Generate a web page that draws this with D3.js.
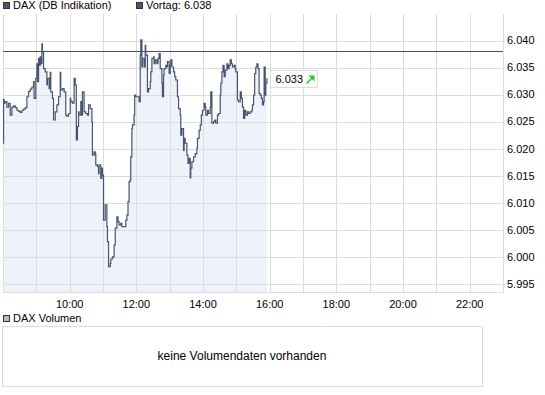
<!DOCTYPE html>
<html>
<head>
<meta charset="utf-8">
<script src="https://cdn.jsdelivr.net/npm/d3@7"></script>
<style>
  body { margin: 0; background: #fff; }
  svg text { font-family: "Liberation Sans", Arial, sans-serif; font-size: 11px; fill: #000; }
</style>
</head>
<body>
<svg id="chart"></svg>
<script>
const width = 545;
const height = 395;

// intraday DAX (DB Indikation)
const times = [
  "08:00","08:01","08:02","08:04","08:07","08:10","08:13","08:16","08:19","08:22",
  "08:25","08:28","08:31","08:34","08:37","08:40","08:43","08:46","08:49","08:52",
  "08:55","08:56","08:59","09:01","09:02","09:04","09:05","09:07","09:08","09:10",
  "09:11","09:13","09:16","09:19","09:20","09:23","09:25","09:26","09:29","09:31",
  "09:34","09:37","09:40","09:43","09:44","09:47","09:50","09:53","09:55","09:58",
  "10:01","10:02","10:05","10:08","10:10","10:12","10:14","10:16","10:17","10:20",
  "10:22","10:23","10:26","10:29","10:32","10:34","10:37","10:40","10:41","10:44",
  "10:46","10:47","10:50","10:52","10:53","10:56","10:58","10:59","11:01","11:04",
  "11:07","11:08","11:10","11:13","11:14","11:17","11:20","11:22","11:25","11:27",
  "11:29","11:32","11:34","11:38","11:41","11:43","11:45","11:47","11:49","11:50",
  "11:52","11:53","11:56","11:57","11:59","12:02","12:05","12:07","12:08","12:10",
  "12:11","12:14","12:16","12:17","12:20","12:22","12:25","12:26","12:28","12:31",
  "12:32","12:34","12:37","12:39","12:41","12:43","12:46","12:47","12:49","12:50",
  "12:53","12:55","12:56","12:59","13:01","13:02","13:04","13:07","13:09","13:11",
  "13:14","13:16","13:19","13:20","13:22","13:25","13:26","13:28","13:31","13:33",
  "13:35","13:37","13:38","13:40","13:43","13:46","13:49","13:50","13:53","13:55",
  "13:57","13:59","14:02","14:04","14:05","14:08","14:10","14:13","14:14","14:16",
  "14:19","14:21","14:23","14:26","14:28","14:31","14:32","14:34","14:36","14:38",
  "14:40","14:43","14:45","14:47","14:49","14:51","14:53","14:56","14:58","14:59",
  "15:02","15:04","15:07","15:09","15:11","15:13","15:15","15:17","15:20","15:22",
  "15:25","15:28","15:29","15:31","15:33","15:35","15:37","15:39","15:41","15:43",
  "15:45","15:47","15:49","15:50","15:52","15:53","15:55"
];
const prices = [
  6.0210,6.0291,6.0284,6.0287,6.0277,6.0284,6.0262,6.0277,6.0279,6.0276,
  6.0271,6.0269,6.0267,6.0271,6.0273,6.0276,6.0296,6.0306,6.0310,6.0314,
  6.0324,6.0293,6.0330,6.0357,6.0324,6.0367,6.0354,6.0370,6.0357,6.0394,
  6.0379,6.0348,6.0342,6.0318,6.0330,6.0311,6.0341,6.0305,6.0293,6.0253,
  6.0268,6.0281,6.0296,6.0341,6.0308,6.0311,6.0305,6.0262,6.0260,6.0265,
  6.0293,6.0287,6.0284,6.0330,6.0318,6.0216,6.0241,6.0268,6.0262,6.0287,
  6.0262,6.0305,6.0268,6.0265,6.0262,6.0281,6.0274,6.0250,6.0188,6.0194,
  6.0191,6.0170,6.0167,6.0154,6.0170,6.0145,6.0164,6.0151,6.0068,6.0096,
  6.0056,6.0028,5.9982,5.9988,5.9996,6.0000,6.0022,6.0053,6.0074,6.0065,
  6.0059,6.0062,6.0056,6.0056,6.0068,6.0077,6.0102,6.0139,6.0142,6.0185,
  6.0237,6.0244,6.0262,6.0299,6.0296,6.0296,6.0287,6.0373,6.0401,6.0351,
  6.0367,6.0351,6.0391,6.0373,6.0305,6.0311,6.0324,6.0342,6.0367,6.0370,
  6.0357,6.0364,6.0357,6.0367,6.0376,6.0348,6.0321,6.0296,6.0336,6.0348,
  6.0354,6.0351,6.0361,6.0339,6.0354,6.0364,6.0351,6.0342,6.0333,6.0327,
  6.0296,6.0274,6.0262,6.0225,6.0237,6.0197,6.0219,6.0210,6.0188,6.0173,
  6.0182,6.0146,6.0164,6.0176,6.0185,6.0191,6.0201,6.0219,6.0234,6.0244,
  6.0262,6.0271,6.0284,6.0277,6.0262,6.0271,6.0265,6.0277,6.0305,6.0247,
  6.0250,6.0253,6.0247,6.0262,6.0265,6.0299,6.0321,6.0342,6.0354,6.0333,
  6.0345,6.0357,6.0348,6.0354,6.0364,6.0357,6.0351,6.0354,6.0348,6.0342,
  6.0290,6.0287,6.0305,6.0293,6.0277,6.0256,6.0271,6.0262,6.0268,6.0265,
  6.0268,6.0271,6.0281,6.0299,6.0339,6.0351,6.0357,6.0348,6.0302,6.0299,
  6.0293,6.0281,6.0287,6.0351,6.0299,6.0321,6.0330
];
const vortag = 6.038;
const lastPrice = "6.033";
const yTicks = [5.995, 6.000, 6.005, 6.010, 6.015, 6.020, 6.025, 6.030, 6.035, 6.040];
const xTickLabels = ["10:00", "12:00", "14:00", "16:00", "18:00", "20:00", "22:00"];
const seriesName = "DAX (DB Indikation)";
const volumeName = "DAX Volumen";
const volumeText = "keine Volumendaten vorhanden";

const parseTime = d3.timeParse("%H:%M");
const fmtNum = d3.format(".3f");

const data = times.map((t, i) => ({ t: parseTime(t), v: prices[i] }));

const plot = { left: 3, right: 503, top: 14, bottom: 292 };

const x = d3.scaleTime()
  .domain([parseTime("08:00"), parseTime("23:00")])
  .range([plot.left, plot.right]);

const y = d3.scaleLinear()
  .domain([5.9935, 6.0449])
  .range([plot.bottom, plot.top]);

const svg = d3.select("#chart")
  .attr("width", width)
  .attr("height", height);

// area under the line
const area = d3.area()
  .curve(d3.curveStepAfter)
  .x(d => x(d.t))
  .y0(plot.bottom)
  .y1(d => y(d.v));

svg.append("path")
  .datum(data)
  .attr("fill", "#eef2fb")
  .attr("d", area);

// grid
const hours = d3.timeHour.range(parseTime("09:00"), parseTime("23:00"));
svg.append("g")
  .selectAll("line")
  .data(hours)
  .join("line")
  .attr("x1", d => Math.round(x(d)) + 0.5)
  .attr("x2", d => Math.round(x(d)) + 0.5)
  .attr("y1", plot.top)
  .attr("y2", plot.bottom)
  .attr("stroke", "#dcdcdc");

svg.append("g")
  .selectAll("line")
  .data(yTicks)
  .join("line")
  .attr("x1", plot.left)
  .attr("x2", plot.right)
  .attr("y1", d => Math.round(y(d)) + 0.5)
  .attr("y2", d => Math.round(y(d)) + 0.5)
  .attr("stroke", "#dcdcdc");

// frame (left, right, bottom)
svg.append("path")
  .attr("d", `M${plot.left + 0.5},${plot.top}V${plot.bottom + 0.5}H${plot.right + 0.5}V${plot.top}`)
  .attr("fill", "none")
  .attr("stroke", "#dcdcdc");

// previous close
svg.append("line")
  .attr("x1", plot.left)
  .attr("x2", plot.right)
  .attr("y1", Math.round(y(vortag)) + 0.5)
  .attr("y2", Math.round(y(vortag)) + 0.5)
  .attr("stroke", "#4a5068");

// price line
const line = d3.line()
  .curve(d3.curveStepAfter)
  .x(d => x(d.t))
  .y(d => y(d.v));

svg.append("path")
  .datum(data)
  .attr("fill", "none")
  .attr("stroke", "#475470")
  .attr("stroke-width", 1.2)
  .attr("d", line);

// y axis labels
svg.append("g")
  .selectAll("text")
  .data(yTicks)
  .join("text")
  .attr("x", plot.right + 4)
  .attr("y", d => y(d))
  .attr("dy", "0.35em")
  .text(d => fmtNum(d));

// x axis labels
svg.append("g")
  .selectAll("text")
  .data(xTickLabels)
  .join("text")
  .attr("x", d => x(parseTime(d)))
  .attr("y", 304)
  .attr("dy", "0.35em")
  .attr("text-anchor", "middle")
  .text(d => d);

// last price box
const last = data[data.length - 1];
const box = svg.append("g")
  .attr("transform", `translate(${Math.round(x(last.t)) + 3.5},${Math.round(y(last.v)) - 7.5})`);
box.append("rect")
  .attr("width", 47)
  .attr("height", 17)
  .attr("fill", "#fff")
  .attr("stroke", "#dcdcdc");
box.append("text")
  .attr("x", 5)
  .attr("y", 8.5)
  .attr("dy", "0.35em")
  .text(lastPrice);
// little green "up" arrow
box.append("path")
  .attr("d", "M36,13 L42,7")
  .attr("stroke", "#22cc22")
  .attr("stroke-width", 1.5);
box.append("path")
  .attr("d", "M38,5 H44 V11 Z")
  .attr("fill", "#22cc22");

// legend
function legendItem(px, py, fill, label) {
  svg.append("rect")
    .attr("x", px + 0.5)
    .attr("y", py + 0.5)
    .attr("width", 6)
    .attr("height", 6)
    .attr("fill", fill)
    .attr("stroke", "#333");
  svg.append("text")
    .attr("x", px + 10)
    .attr("y", py + 3.5)
    .attr("dy", "0.35em")
    .text(label);
}
legendItem(3, 2, "#4a5570", seriesName);
legendItem(136, 2, "#4a5570", "Vortag: " + fmtNum(vortag));
legendItem(3, 315, "#bbbbbb", volumeName);

// volume panel
svg.append("rect")
  .attr("x", 2.5)
  .attr("y", 326.5)
  .attr("width", 480)
  .attr("height", 60)
  .attr("fill", "#fff")
  .attr("stroke", "#dcdcdc");
svg.append("text")
  .attr("x", 242)
  .attr("y", 356)
  .attr("dy", "0.35em")
  .attr("text-anchor", "middle")
  .style("font-size", "12px")
  .text(volumeText);
</script>
</body>
</html>
